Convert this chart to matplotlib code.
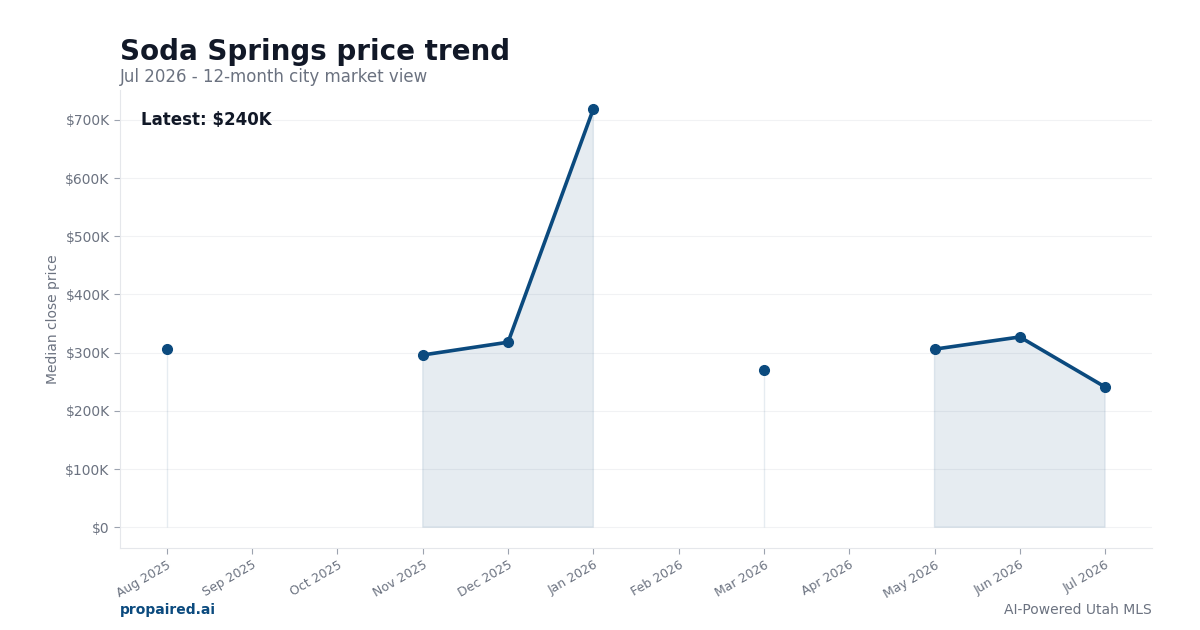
import numpy as np
import matplotlib
matplotlib.use("Agg")
import matplotlib.pyplot as plt
from matplotlib.ticker import FuncFormatter

# monthly median close price (NaN = no closings that month)
months = ["Aug 2025", "Sep 2025", "Oct 2025", "Nov 2025", "Dec 2025", "Jan 2026",
          "Feb 2026", "Mar 2026", "Apr 2026", "May 2026", "Jun 2026", "Jul 2026"]
prices = [306000, np.nan, np.nan, 296000, 318000, 719000,
          np.nan, 270000, np.nan, 306000, 327000, 241000]

title = "Soda Springs price trend"
subtitle = "Jul 2026 - 12-month city market view"
latest_label = "Latest: $240K"

BLUE = "#0b4a7e"
GRAY = "#6b7280"
DARK = "#111827"

x = np.arange(len(months))
y = np.array(prices, dtype=float)

fig = plt.figure(figsize=(12, 6.3), dpi=100)
ax = fig.add_axes([0.1, 0.13, 0.86, 0.727])

ax.fill_between(x, 0, y, color=BLUE, alpha=0.1, linewidth=1)
ax.plot(x, y, color=BLUE, linewidth=2.6, marker="o", markersize=7, zorder=3)

ymax = np.nanmax(y)
ax.set_ylim(-0.05 * ymax, ymax * 1.045)
ax.set_xlim(-0.55, len(months) - 0.45)
ax.set_yticks(np.arange(0, 700001, 100000))
ax.yaxis.set_major_formatter(FuncFormatter(lambda v, p: "$0" if v == 0 else f"${v/1000:.0f}K"))
ax.set_xticks(x)
ax.set_xticklabels(months, rotation=30, ha="right", rotation_mode="anchor")

ax.grid(axis="y", color="#f1f2f4", linewidth=0.8)
ax.set_axisbelow(True)
for s in ["top", "right"]:
    ax.spines[s].set_visible(False)
for s in ["left", "bottom"]:
    ax.spines[s].set_color("#e5e7eb")
ax.tick_params(colors=GRAY, labelsize=10, length=4)
ax.tick_params(axis="x", labelsize=9)
ax.tick_params(axis="both", color="#9ca3af")
ax.set_ylabel("Median close price", color=GRAY, fontsize=10)

ax.text(0.02, 0.935, latest_label, transform=ax.transAxes, fontsize=12,
        fontweight="bold", color=DARK, va="center", ha="left")

fig.text(0.1, 0.918, title, fontsize=20, fontweight="bold", color=DARK, va="center")
fig.text(0.1, 0.877, subtitle, fontsize=12, color=GRAY, va="center")
fig.text(0.1, 0.032, "propaired.ai", fontsize=10, fontweight="bold", color=BLUE, va="center")
fig.text(0.96, 0.032, "AI-Powered Utah MLS", fontsize=10, color=GRAY, va="center", ha="right")

fig.savefig("out.png", dpi=100)
